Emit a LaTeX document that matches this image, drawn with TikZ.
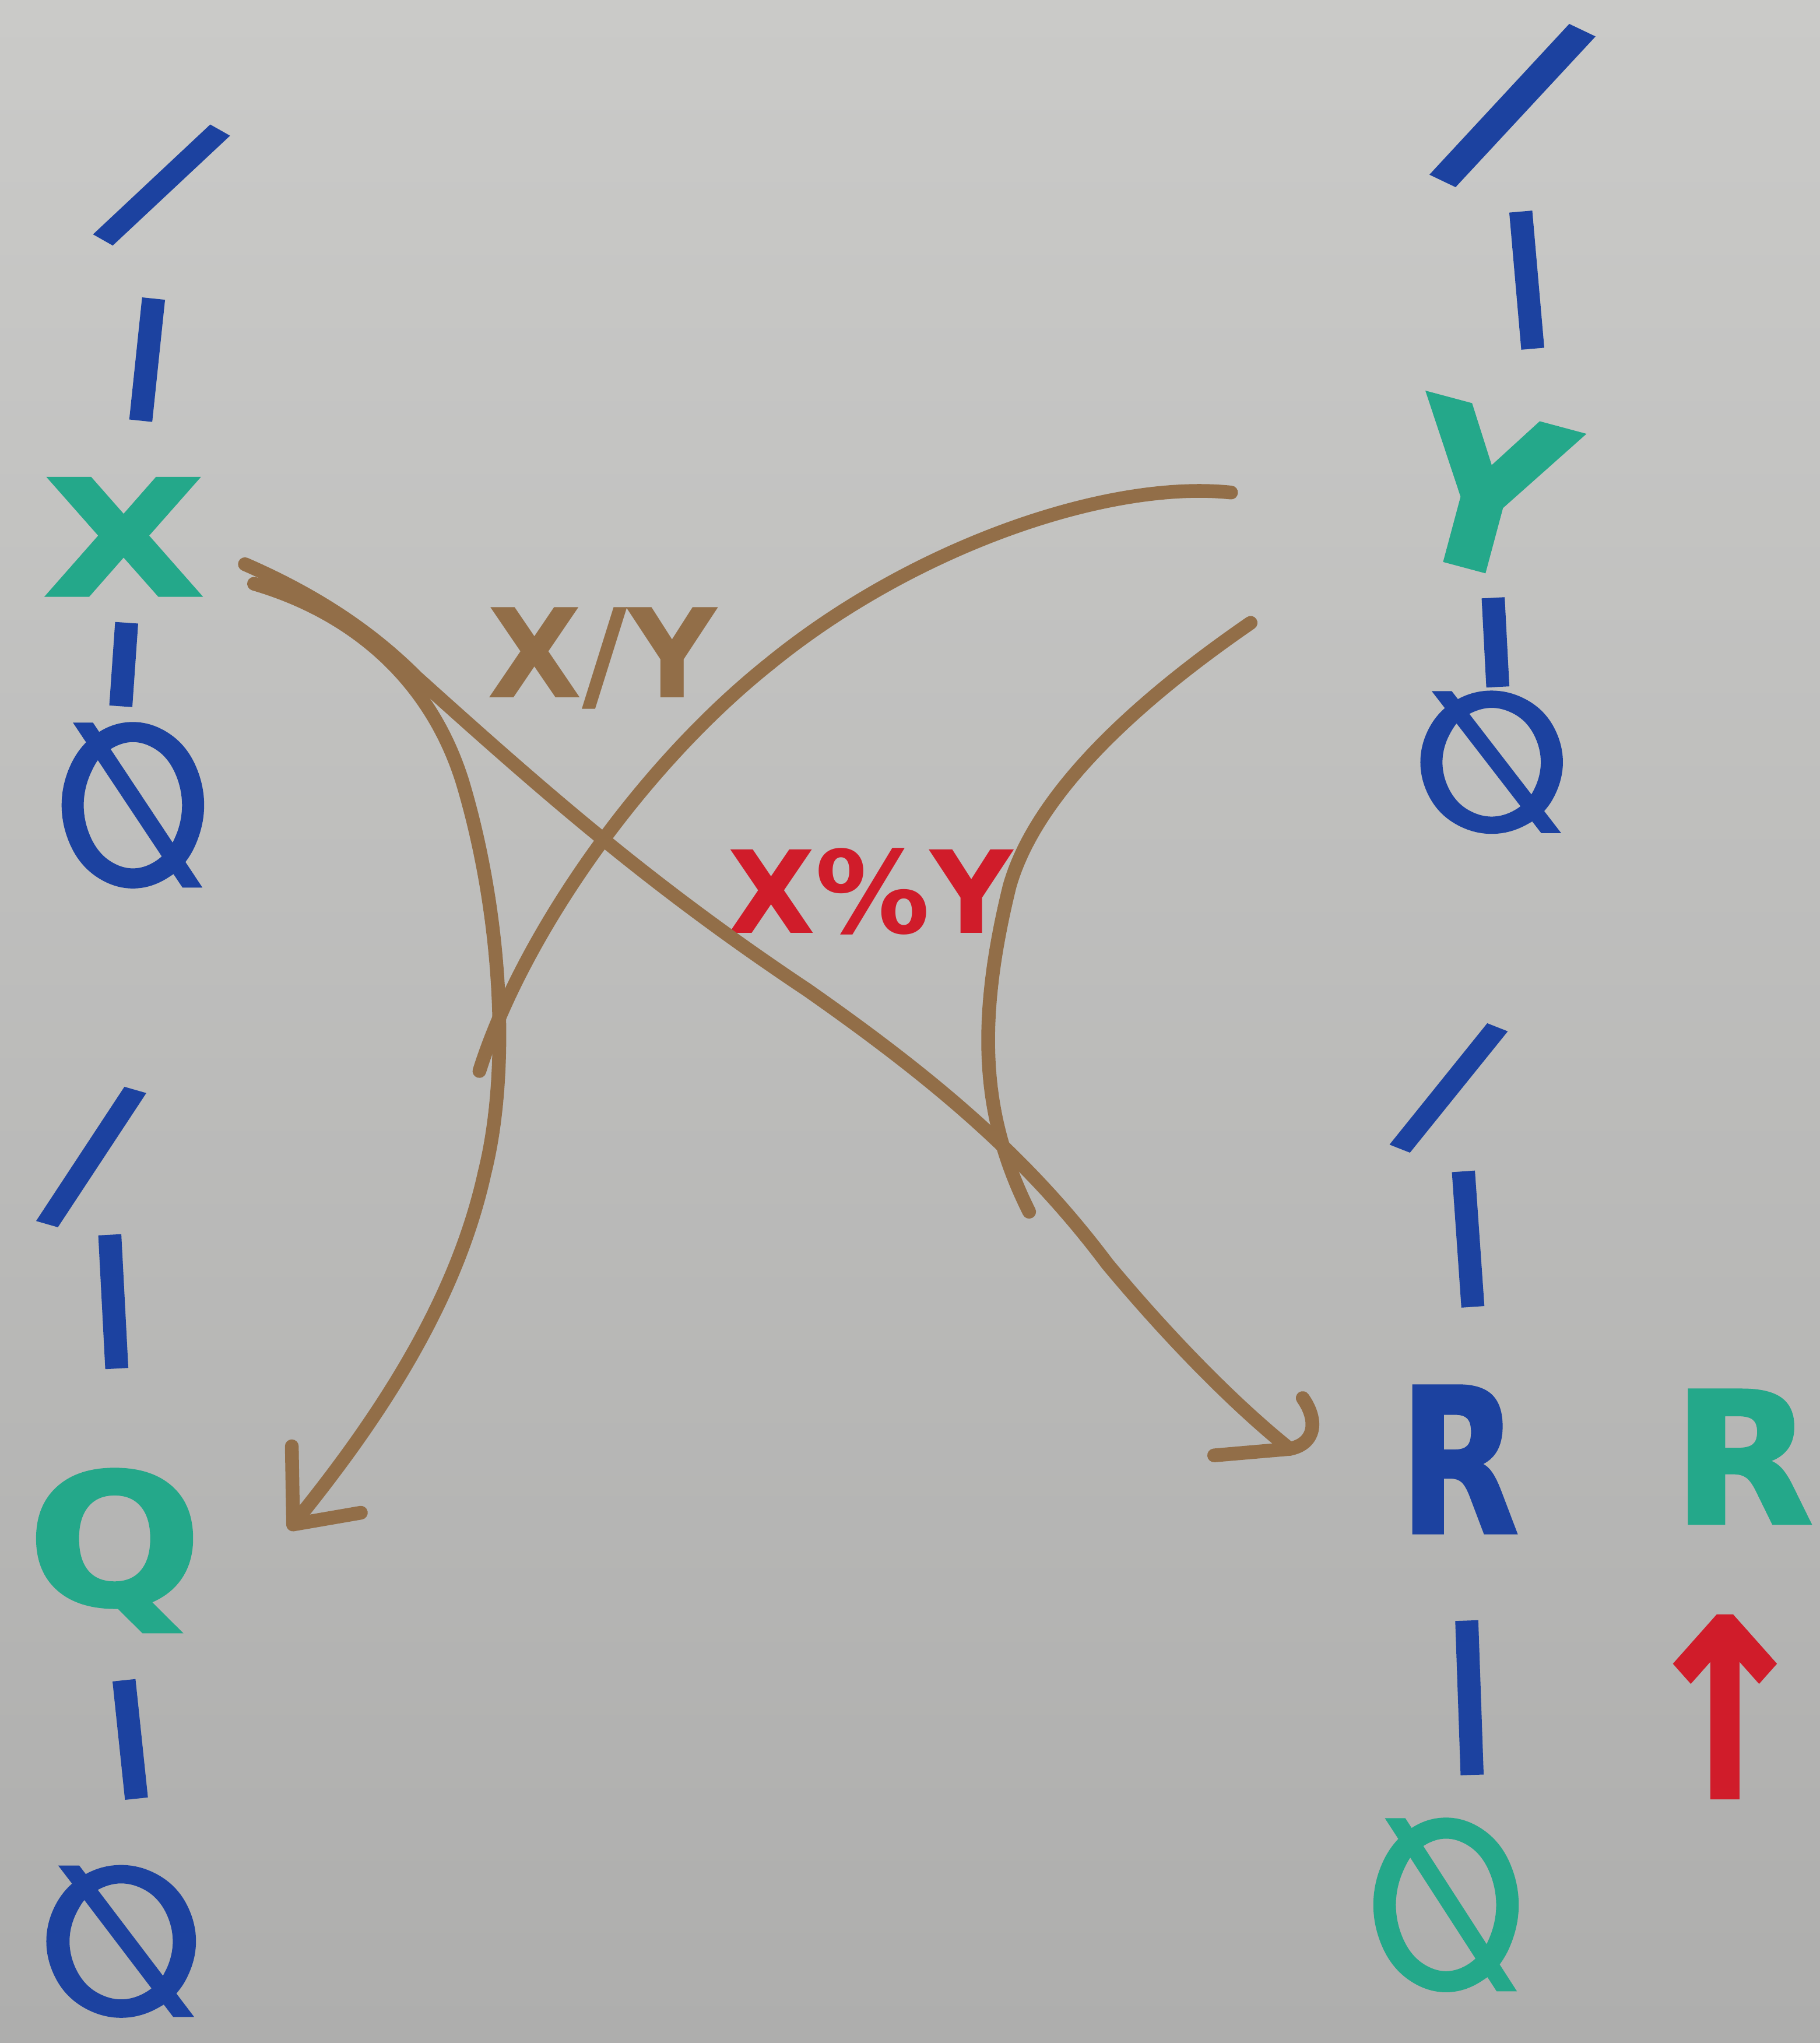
\documentclass[tikz,border=0pt]{standalone}
\usepackage{fontspec}
\setmainfont{DejaVu Sans}
\newfontfamily\marker{DejaVu Sans Bold}[FakeBold=1.5]
\definecolor{bgtop}{RGB}{202,202,200}
\definecolor{bgbot}{RGB}{174,174,173}
\definecolor{mblue}{RGB}{28,66,160}
\definecolor{mteal}{RGB}{36,168,138}
\definecolor{mbrown}{RGB}{146,110,72}
\definecolor{mred}{RGB}{208,28,42}
\tikzset{
  glyph/.style={inner sep=0pt, font=\fontsize{40}{40}\selectfont\marker},
  bluetxt/.style={glyph, text=mblue},
  tealtxt/.style={glyph, text=mteal},
  redtxt/.style={glyph, text=mred},
  labeltxt/.style={inner sep=0pt, font=\fontsize{27}{27}\selectfont\bfseries},
  wire/.style={draw=mbrown, line width=3pt, line cap=round, line join=round},
}
\begin{document}
\begin{tikzpicture}[x=0.01cm, y=-0.01cm]
\shade[top color=bgtop, bottom color=bgbot] (0,0) rectangle (1397,1568);
\useasboundingbox (0,0) rectangle (1397,1568);

% left column, top
\node[bluetxt, rotate=-29.5, scale=1.0] (l1) at (124,142) {/};
\node[bluetxt, rotate=-6, yscale=0.66] (l2) at (113,276) {|};
\node[tealtxt, xscale=1.14, yscale=0.88] (X) at (95,412) {X};
\node[bluetxt, rotate=-4, yscale=0.45] (l4) at (95,510) {|};
\node[bluetxt, xscale=-1, yscale=1.22] (l5) at (102,618) {∅};
% left column, bottom
\node[bluetxt, rotate=-16, scale=1.0] (l6) at (70,888) {/};
\node[bluetxt, rotate=3, yscale=0.72] (l7) at (87,999) {|};
\node[tealtxt, xscale=1.12] (Q) at (88,1190) {Q};
\node[bluetxt, rotate=6, yscale=0.64] (l9) at (100,1335) {|};
\node[bluetxt, xscale=-1.05, yscale=1.12] (l10) at (93,1490) {∅};

% right column, top
\node[bluetxt, rotate=-25.5, scale=1.28] (r1) at (1161,81) {/};
\node[bluetxt, rotate=5, yscale=0.74] (r2) at (1172,215) {|};
\node[tealtxt, rotate=-15, scale=1.18] (Y) at (1140,376) {Y};
\node[bluetxt, rotate=3, yscale=0.48] (r4) at (1148,493) {|};
\node[bluetxt, xscale=-1, yscale=1.05] (r5) at (1145,585) {∅};
% right column, bottom
\node[bluetxt, rotate=-21.5, scale=0.97] (r6) at (1112,835) {/};
\node[bluetxt, rotate=4, yscale=0.73] (r7) at (1127,951) {|};
\node[bluetxt, xscale=0.85, yscale=1.1] (R) at (1120,1120) {R};
\node[bluetxt, rotate=2, yscale=0.83] (r9) at (1128,1303) {|};
\node[tealtxt, xscale=-1.02, yscale=1.28] (r10) at (1110,1462) {∅};
\node[tealtxt] (R2) at (1338,1118) {R};
\node[redtxt, xscale=1.2, yscale=1.35] (up) at (1324,1310) {↑};

% labels
\node[labeltxt, text=mbrown] (div) at (462,505) {X/Y};
\node[labeltxt, text=mred, font=\fontsize{25}{25}\selectfont\bfseries] (mod) at (668,684) {X\%Y};

% connector end points
\coordinate (xs1) at (188,433);
\coordinate (xs2) at (195,448);
\coordinate (ys1) at (945,378);
\coordinate (ys2) at (960,478);
\coordinate (jl) at (368,822);
\coordinate (jr) at (790,930);
\coordinate (qtip) at (225,1170);
\coordinate (rtip) at (990,1112);

% X -> Q
\draw[wire] (xs2) .. controls (270,470) and (330,520) .. (355,600)
  .. controls (385,700) and (392,820) .. (372,900)
  .. controls (350,1000) and (290,1090) .. (qtip);
% Y -> Q
\draw[wire] (ys1) .. controls (850,368) and (700,420) .. (590,510)
  .. controls (490,590) and (400,720) .. (jl);
% X -> R
\draw[wire] (xs1) .. controls (250,460) and (290,490) .. (320,520)
  .. controls (420,610) and (500,680) .. (620,760)
  .. controls (720,830) and (790,890) .. (850,970)
  .. controls (900,1030) and (950,1080) .. (rtip);
% Y -> R
\draw[wire] (ys2) .. controls (870,540) and (795,610) .. (775,680)
  .. controls (748,790) and (755,860) .. (jr);
% arrowheads
\draw[wire] (224,1110) -- (qtip) -- (277,1161);
\draw[wire] (932,1117) -- (rtip) .. controls (1010,1108) and (1012,1090) .. (1000,1073);
\end{tikzpicture}
\end{document}
